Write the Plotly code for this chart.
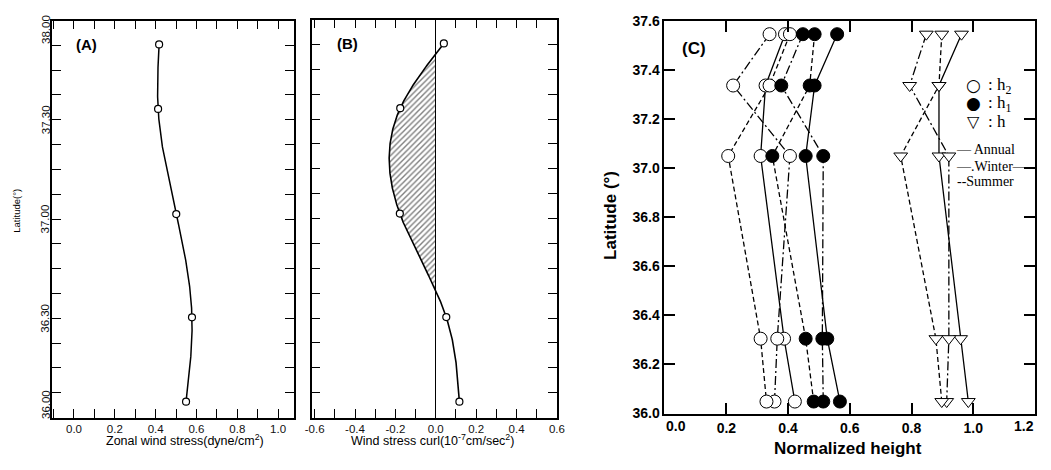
import numpy as np
import plotly.graph_objects as go

W, H = 1051, 470

# ---------------- data ----------------
# Panels A and B (station latitudes, degrees)
lat_ab = [37.88, 37.555, 37.025, 36.505, 36.08]
zonal_wind_stress = [0.417, 0.412, 0.501, 0.578, 0.549]
wind_stress_curl = [0.040, -0.176, -0.178, 0.052, 0.117]

# Panel C
lat_c = [37.545, 37.336, 37.049, 36.305, 36.049]
h2_annual = [0.390, 0.327, 0.311, 0.387, 0.422]
h2_winter = [0.340, 0.222, 0.406, 0.365, 0.356]
h2_summer = [0.406, 0.340, 0.206, 0.311, 0.330]
h1_annual = [0.559, 0.486, 0.457, 0.527, 0.568]
h1_winter = [0.448, 0.378, 0.514, 0.511, 0.514]
h1_summer = [0.486, 0.470, 0.349, 0.457, 0.483]
h_annual = [0.962, 0.889, 0.889, 0.959, 0.984]
h_winter = [0.848, 0.794, 0.921, 0.921, 0.914]
h_summer = [0.898, 0.889, 0.765, 0.879, 0.898]

# tick labels
a_x_ticks = [0.0, 0.2, 0.4, 0.6, 0.8, 1.0]
a_x_labels = ["0.0", "0.2", "0.4", "0.6", "0.8", "1.0"]
ab_y_ticks = [36.0, 36.5, 37.0, 37.5, 38.0]
ab_y_labels = ["36.00", "36.30", "37.00", "37.30", "38.00"]
b_x_ticks = [-0.6, -0.4, -0.2, 0.0, 0.2, 0.4, 0.6]
b_x_labels = ["-0.6", "-0.4", "-0.2", "0.0", "0.2", "0.4", "0.6"]
c_x_ticks = [0.0, 0.2, 0.4, 0.6, 0.8, 1.0, 1.2]
c_x_labels = ["0.0", "0.2", "0.4", "0.6", "0.8", "1.0", "1.2"]
c_y_ticks = [36.0, 36.2, 36.4, 36.6, 36.8, 37.0, 37.2, 37.4, 37.6]
c_y_labels = ["36.0", "36.2", "36.4", "36.6", "36.8", "37.0", "37.2", "37.4", "37.6"]


def natural_spline(yk, xk, n=400):
    """Smooth curve x(y) through the given points (natural cubic spline)."""
    order = np.argsort(yk)
    y = np.asarray(yk, float)[order]
    x = np.asarray(xk, float)[order]
    m = len(y)
    h = np.diff(y)
    s = np.diff(x) / h
    A = np.zeros((m, m))
    b = np.zeros(m)
    A[0, 0] = A[-1, -1] = 1.0
    for i in range(1, m - 1):
        A[i, i - 1] = h[i - 1]
        A[i, i] = 2 * (h[i - 1] + h[i])
        A[i, i + 1] = h[i]
        b[i] = 6 * (s[i] - s[i - 1])
    M = np.linalg.solve(A, b)
    yy = np.linspace(y[0], y[-1], n)
    idx = np.clip(np.searchsorted(y, yy) - 1, 0, m - 2)
    t0 = y[idx]
    t1 = y[idx + 1]
    hh = t1 - t0
    xx = (M[idx] * (t1 - yy) ** 3 / (6 * hh) + M[idx + 1] * (yy - t0) ** 3 / (6 * hh)
          + (x[idx] / hh - M[idx] * hh / 6) * (t1 - yy)
          + (x[idx + 1] / hh - M[idx + 1] * hh / 6) * (yy - t0))
    return xx, yy


fig = go.Figure()

# ---------------- Panel A ----------------
ax, ay = natural_spline(lat_ab, zonal_wind_stress)
fig.add_trace(go.Scatter(x=ax, y=ay, mode="lines", line=dict(color="black", width=1.5),
                         xaxis="x", yaxis="y", showlegend=False, hoverinfo="skip"))
fig.add_trace(go.Scatter(x=zonal_wind_stress, y=lat_ab, mode="markers",
                         marker=dict(symbol="circle", size=7, color="white",
                                     line=dict(color="black", width=1.2)),
                         xaxis="x", yaxis="y", showlegend=False))

# ---------------- Panel B ----------------
bx, by = natural_spline(lat_ab, wind_stress_curl)
fig.add_trace(go.Scatter(x=np.minimum(bx, 0), y=by, mode="lines", line=dict(width=0, color="black"),
                         fill="tozerox", fillcolor="rgba(0,0,0,0)",
                         fillpattern=dict(shape="/", fgcolor="black", bgcolor="rgba(255,255,255,0)",
                                          size=4, solidity=0.35),
                         xaxis="x2", yaxis="y2", showlegend=False, hoverinfo="skip"))
fig.add_trace(go.Scatter(x=bx, y=by, mode="lines", line=dict(color="black", width=1.6),
                         xaxis="x2", yaxis="y2", showlegend=False, hoverinfo="skip"))
fig.add_trace(go.Scatter(x=wind_stress_curl, y=lat_ab, mode="markers",
                         marker=dict(symbol="circle", size=7, color="white",
                                     line=dict(color="black", width=1.2)),
                         xaxis="x2", yaxis="y2", showlegend=False))

# ---------------- Panel C ----------------
dash_annual = "solid"
dash_winter = "9px,3px,2px,3px"
dash_summer = "5px,3px"
series = [
    (h2_annual, dash_annual, "h2"), (h2_winter, dash_winter, "h2"), (h2_summer, dash_summer, "h2"),
    (h1_annual, dash_annual, "h1"), (h1_winter, dash_winter, "h1"), (h1_summer, dash_summer, "h1"),
    (h_annual, dash_annual, "h"), (h_winter, dash_winter, "h"), (h_summer, dash_summer, "h"),
]
for vals, dash, _ in series:
    fig.add_trace(go.Scatter(x=vals, y=lat_c, mode="lines",
                             line=dict(color="black", width=1.3, dash=dash),
                             xaxis="x3", yaxis="y3", showlegend=False, hoverinfo="skip"))
marker_styles = {
    "h2": dict(symbol="circle", size=13, color="white", line=dict(color="black", width=1)),
    "h1": dict(symbol="circle", size=13, color="black", line=dict(color="black", width=1)),
    "h": dict(symbol="triangle-down", size=12, color="white", line=dict(color="black", width=1)),
}
for vals, dash, kind in series:
    fig.add_trace(go.Scatter(x=vals, y=lat_c, mode="markers", marker=marker_styles[kind],
                             xaxis="x3", yaxis="y3", showlegend=False))

# ---------------- axes ----------------
thin_font = dict(family="Liberation Sans", size=11.5, color="#111")
bold_font = dict(family="Liberation Sans", size=14, color="black", weight="bold")

def ab_common():
    return dict(showgrid=False, zeroline=False, showline=True, linecolor="black", linewidth=1.8,
                mirror="ticks", ticks="inside", tickcolor="black", tickwidth=1.3, ticklen=9)

xa = ab_common()
xa.update(domain=[46 / W, 291 / W], range=[-0.106, 1.077], anchor="y",
          tickmode="array", tickvals=a_x_ticks, ticktext=a_x_labels, tickfont=thin_font,
          minor=dict(tickmode="linear", dtick=0.1, tick0=0, ticks="inside", ticklen=9,
                     tickcolor="black", tickwidth=1.3))
ya = ab_common()
ya.update(domain=[1 - 424 / H, 1 - 13 / H], range=[36.0, 38.0], anchor="x",
          tickmode="array", tickvals=ab_y_ticks, showticklabels=False,
          minor=dict(tickmode="linear", dtick=0.125, tick0=36.0, ticks="inside", ticklen=9,
                     tickcolor="black", tickwidth=1.3))
xb = ab_common()
xb.update(domain=[309 / W, 558 / W], range=[-0.615, 0.6005], anchor="y2",
          tickmode="array", tickvals=b_x_ticks, ticktext=b_x_labels, tickfont=thin_font,
          zeroline=True, zerolinecolor="black", zerolinewidth=1.3,
          minor=dict(tickmode="linear", dtick=0.1, tick0=0, ticks="inside", ticklen=9,
                     tickcolor="black", tickwidth=1.3))
yb = ab_common()
yb.update(domain=[1 - 424 / H, 1 - 12 / H], range=[36.0, 38.0], anchor="x2",
          tickmode="array", tickvals=ab_y_ticks, showticklabels=False,
          minor=dict(tickmode="linear", dtick=0.125, tick0=36.0, ticks="inside", ticklen=9,
                     tickcolor="black", tickwidth=1.3))
# edge labels of panel C's x axis are drawn as annotations (kept inside the page)
c_x_axis_text = [lab if 0 < v < 1.2 else "" for v, lab in zip(c_x_ticks, c_x_labels)]
xc = dict(domain=[667 / W, 1043 / W], range=[-0.0005, 1.2005], anchor="y3", showgrid=False,
          zeroline=False, showline=True, linecolor="black", linewidth=2, mirror="ticks",
          ticks="inside", ticklen=11, tickwidth=1.5, tickcolor="black",
          tickmode="array", tickvals=c_x_ticks, ticktext=c_x_axis_text, tickfont=bold_font)
yc = dict(domain=[1 - 420 / H, 1 - 13 / H], range=[35.9995, 37.6005], anchor="x3", showgrid=False,
          zeroline=False, showline=True, linecolor="black", linewidth=2, mirror="ticks",
          ticks="inside", ticklen=11, tickwidth=1.5, tickcolor="black",
          tickmode="array", tickvals=c_y_ticks, ticktext=c_y_labels, tickfont=bold_font)

# ---------------- annotations ----------------
ann = []
def px_ann(text, x, y, size, bold=False, family="Liberation Sans", angle=0, xanchor="center"):
    f = dict(family=family, size=size, color="black")
    if bold:
        f["weight"] = "bold"
    ann.append(dict(text=text, x=x / W, y=1 - y / H, xref="paper", yref="paper", showarrow=False,
                    font=f, textangle=angle, xanchor=xanchor, yanchor="middle"))

# Panel A y tick labels (rotated)
shifts = {36.0: 13, 38.0: -9}
for v, lab in zip(ab_y_ticks, ab_y_labels):
    ann.append(dict(text=lab, x=39 / W, y=v, xref="paper", yref="y", showarrow=False,
                    font=thin_font, textangle=-90, xanchor="center", yanchor="middle",
                    yshift=shifts.get(v, 0)))

# Panel C edge x tick labels
ann.append(dict(text=c_x_labels[0], x=c_x_ticks[0], y=1 - 433 / H, xref="x3", yref="paper",
                showarrow=False, font=bold_font, xanchor="left", yanchor="middle", xshift=-1))
ann.append(dict(text=c_x_labels[-1], x=c_x_ticks[-1], y=1 - 433 / H, xref="x3", yref="paper",
                showarrow=False, font=bold_font, xanchor="right", yanchor="middle", xshift=1))

px_ann("Latitude(°)", 10, 210, 9.5, angle=-90)
px_ann("Zonal wind stress(dyne/cm<sup>2</sup>)", 181, 447, 12.5)
px_ann("Wind stress curl(10<sup>-7</sup>cm/sec<sup>2</sup>)", 432, 447, 12.5)
px_ann("Normalized height", 853, 456, 17, bold=True)
px_ann("Latitude (°)", 612, 215, 17, bold=True, angle=-90)
px_ann("(A)", 81, 38, 15, bold=True)
px_ann("(B)", 345, 37, 15, bold=True)
px_ann("(C)", 697, 42, 17, bold=True)

serif = "Liberation Serif"
sym = "DejaVu Sans"
px_ann("○", 981, 80, 17, family=sym)
px_ann("●", 981, 98, 17, family=sym)
px_ann("▽", 981, 117, 16, family=sym)
px_ann(": h<sub>2</sub>", 993, 81, 17, family=serif, xanchor="left")
px_ann(": h<sub>1</sub>", 993, 99, 17, family=serif, xanchor="left")
px_ann(": h", 993, 118, 17, family=serif, xanchor="left")
px_ann("— Annual", 961, 147, 14, family=serif, xanchor="left")
px_ann("—.Winter—", 961, 164, 14, family=serif, xanchor="left")
px_ann("--Summer", 962, 180, 14, family=serif, xanchor="left")

fig.update_layout(
    width=W, height=H, margin=dict(l=0, r=0, t=0, b=0),
    paper_bgcolor="white", plot_bgcolor="white",
    xaxis=xa, yaxis=ya, xaxis2=xb, yaxis2=yb, xaxis3=xc, yaxis3=yc,
    annotations=ann, showlegend=False,
)

fig.write_html(
    "out.html",
    config={"displayModeBar": False},
    post_script="document.body.style.margin='0';document.body.style.overflow='hidden';"
                "document.documentElement.style.overflow='hidden';",
)
